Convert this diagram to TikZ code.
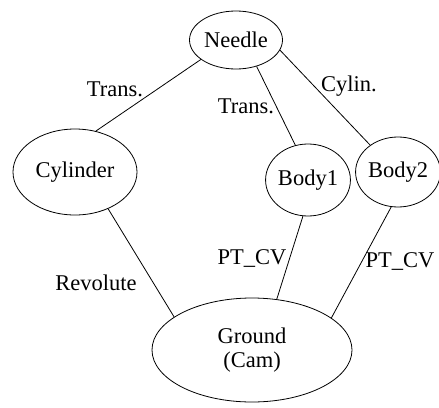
\documentclass[tikz,border=0pt]{standalone}
\usepackage{fontspec}
\newfontfamily\tnr{Liberation Serif}
\usetikzlibrary{shapes.geometric}
\begin{document}
\begin{tikzpicture}[x=1pt,y=-1pt,
  body/.style={draw,ellipse,inner sep=0pt,line width=0.8pt,font=\tnr\fontsize{22.5}{24}\selectfont},
  lbl/.style={inner sep=0pt,font=\tnr\fontsize{22.5}{24}\selectfont},
  link/.style={line width=0.8pt}]
\useasboundingbox (0,0) rectangle (439,407);
\node[body,minimum width=93pt,minimum height=58pt] (needle) at (236,40) {Needle};
\node[body,minimum width=124pt,minimum height=86pt] (cyl) at (75,172) {Cylinder};
\node[body,minimum width=78pt,minimum height=72pt] (b1) at (308,180) {Body1};
\node[body,minimum width=80pt,minimum height=70pt] (b2) at (398,172) {Body2};
\node[body,minimum width=200pt,minimum height=104pt,align=center] (gnd) at (252,350) {Ground\\(Cam)};
\draw[link] (needle.209) -- (cyl.63);
\draw[link] (needle.308) -- (b1.110);
\draw[link] (needle.347) -- (b2.136);
\draw[link] (cyl.312) -- (gnd.157);
\draw[link] (b1.262) -- (gnd.64);
\draw[link] (b2.259) -- (gnd.22);
\node[lbl] (t1) at (115,89) {Trans.};
\node[lbl] (t2) at (246,106) {Trans.};
\node[lbl] (t3) at (349,86) {Cylin.};
\node[lbl] (t4) at (96,283) {Revolute};
\node[lbl] (t5) at (252,258) {PT\_CV};
\node[lbl] (t6) at (400,261) {PT\_CV};
\end{tikzpicture}
\end{document}
